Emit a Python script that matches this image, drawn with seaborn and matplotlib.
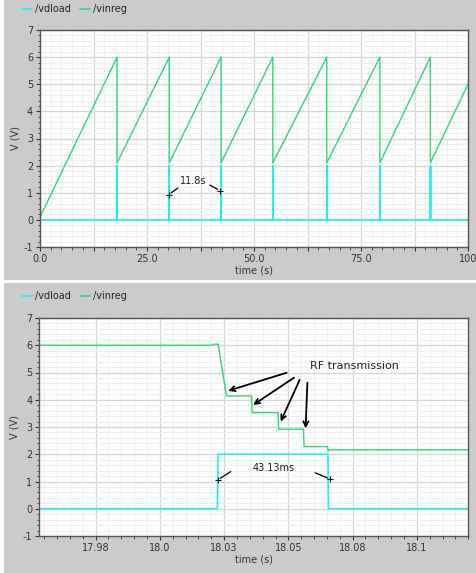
import numpy as np
import pandas as pd
import seaborn as sns
import matplotlib.pyplot as plt
from matplotlib.patches import Rectangle
from matplotlib.ticker import MultipleLocator, FixedLocator

# ---- top panel: full 100 s transient ----
# vinreg sawtooth corners (time s, volts)
saw_t = [0.0, 18.0, 18.0, 30.2, 30.2, 42.3, 42.3, 54.4, 54.4, 67.0, 67.0, 79.4, 79.4, 91.2, 91.2, 100.0]
saw_v = [0.1, 6.0, 2.1, 6.0, 2.1, 6.0, 2.1, 6.0, 2.1, 6.0, 2.1, 6.0, 2.1, 6.0, 2.1, 5.0]
# vdload pulses (start times, s), width and height
pulse_t = [18.0, 30.2, 42.3, 54.4, 67.0, 79.4, 91.2]
pulse_w = 0.043
pulse_h = 2.0
top_tmax = 100.0

# ---- bottom panel: zoom on first RF discharge ----
zoom_t = [17.95, 18.0208, 18.0210, 18.0227, 18.0259, 18.0357, 18.0359, 18.0460, 18.0462,
          18.0559, 18.0561, 18.0652, 18.0655, 18.0660, 18.12]
zoom_v = [6.0, 6.0, 6.04, 6.04, 4.14, 4.14, 3.53, 3.53, 2.92, 2.92, 2.28, 2.28, 2.12, 2.16, 2.16]
load_t = [17.95, 18.0222, 18.0224, 18.0226, 18.0654, 18.0656, 18.12]
load_v = [0.0, 0.0, 0.05, 2.0, 2.0, 0.0, 0.0]
zoom_ticks = [17.975, 18.0, 18.025, 18.05, 18.075, 18.1]
zoom_labels = ["17.98", "18.0", "18.03", "18.05", "18.08", "18.1"]

# markers / annotation targets
top_mark_t = [30.1, 42.1]
top_mark_v = [0.93, 1.08]
bot_mark_t = [18.0226, 18.0662]
bot_mark_v = [1.06, 1.09]
# arrow heads for "RF transmission"
rf_head_t = [18.0266, 18.0363, 18.0470, 18.0567]
rf_head_v = [4.33, 3.81, 3.20, 2.95]
rf_tail_t = [18.0493, 18.0522, 18.0544, 18.0574]
rf_tail_v = [4.99, 4.81, 4.73, 4.63]

CYAN = "#1ef0f0"
GREEN = "#2fd67c"
PANEL = "#cbcbcb"

sns.set_theme(style="white")
plt.rcParams["font.family"] = ["DejaVu Sans"]
plt.rcParams["font.size"] = 7
plt.rcParams["axes.unicode_minus"] = False


def pulse_series(starts, width, height, tmax):
    t, v = [0.0], [0.0]
    for s in starts:
        t += [s, s, s + width, s + width]
        v += [0.0, height, height, 0.0]
    t.append(tmax)
    v.append(0.0)
    return pd.DataFrame({"time": t, "V": v})


def style_axes(ax):
    ax.set_facecolor("white")
    ax.set_ylim(-1, 7)
    ax.yaxis.set_major_locator(MultipleLocator(1))
    ax.yaxis.set_minor_locator(MultipleLocator(0.2))
    ax.grid(True, which="major", color="#d6d6d6", lw=0.9)
    ax.grid(True, which="minor", color="#eeeeee", lw=0.7)
    ax.set_axisbelow(True)
    for s in ax.spines.values():
        s.set_color("#555555")
        s.set_linewidth(1.0)
    ax.tick_params(which="major", direction="out", length=3, width=0.8, color="#333333",
                   labelsize=7, labelcolor="#333333", pad=2, left=True, bottom=True)
    ax.tick_params(which="minor", direction="out", length=1.8, width=0.6, color="#333333",
                   left=True, bottom=True)
    ax.set_ylabel("V (V)", fontsize=7, color="#333333")
    ax.yaxis.set_label_coords(-0.045, 0.5)
    ax.set_xlabel("time (s)", fontsize=7, color="#333333", labelpad=1)


fig = plt.figure(figsize=(4.76, 5.73), dpi=100, facecolor="white")
fig.patches.append(Rectangle((4 / 476, 1 - 280 / 573), 1, 280 / 573, transform=fig.transFigure,
                             facecolor=PANEL, edgecolor="none", zorder=-10))
fig.patches.append(Rectangle((4 / 476, 0), 1, 1 - 283 / 573, transform=fig.transFigure,
                             facecolor=PANEL, edgecolor="none", zorder=-10))

ax1 = fig.add_axes([40 / 476, 1 - 247 / 573, 428 / 476, 217 / 573])
ax2 = fig.add_axes([39.3 / 476, 1 - 536 / 573, 429 / 476, 218 / 573])

# top panel
top_load = pulse_series(pulse_t, pulse_w, pulse_h, top_tmax)
top_reg = pd.DataFrame({"time": saw_t, "V": saw_v})
sns.lineplot(data=top_load, x="time", y="V", ax=ax1, color=CYAN, lw=1.2, sort=False, estimator=None)
sns.lineplot(data=top_reg, x="time", y="V", ax=ax1, color=GREEN, lw=1.0, sort=False, estimator=None)
style_axes(ax1)
ax1.set_xlim(0, 100)
ax1.xaxis.set_minor_locator(MultipleLocator(2.5))
ax1.set_xticks(np.arange(0, 101, 12.5), minor=False)
ax1.set_xticklabels(["0.0", "", "25.0", "", "50.0", "", "75.0", "", "100"])
ax1.plot(top_mark_t, top_mark_v, "+", color="black", ms=4, mew=0.8)
ax1.annotate("", xy=(top_mark_t[0], top_mark_v[0]), xytext=(32.75, 1.24),
             arrowprops=dict(arrowstyle="-", color="black", lw=0.9))
ax1.annotate("", xy=(top_mark_t[1], top_mark_v[1]), xytext=(39.1, 1.33),
             arrowprops=dict(arrowstyle="-", color="black", lw=0.9))
ax1.text(35.9, 1.45, "11.8s", ha="center", va="center", fontsize=7, color="#222222")

# bottom panel
bot_load = pd.DataFrame({"time": load_t, "V": load_v})
bot_reg = pd.DataFrame({"time": zoom_t, "V": zoom_v})
sns.lineplot(data=bot_load, x="time", y="V", ax=ax2, color=CYAN, lw=1.2, sort=False, estimator=None)
sns.lineplot(data=bot_reg, x="time", y="V", ax=ax2, color=GREEN, lw=1.0, sort=False, estimator=None)
style_axes(ax2)
ax2.set_xlim(17.9531, 18.12)
ax2.xaxis.set_major_locator(FixedLocator(zoom_ticks))
ax2.xaxis.set_minor_locator(MultipleLocator(0.005))
ax2.set_xticklabels(zoom_labels)
ax2.plot(bot_mark_t, bot_mark_v, "+", color="black", ms=4, mew=0.8)
ax2.annotate("", xy=(bot_mark_t[0], bot_mark_v[0]), xytext=(18.0285, 1.42),
             arrowprops=dict(arrowstyle="-", color="black", lw=0.9))
ax2.annotate("", xy=(bot_mark_t[1], bot_mark_v[1]), xytext=(18.0594, 1.36),
             arrowprops=dict(arrowstyle="-", color="black", lw=0.9))
ax2.text(18.0444, 1.51, "43.13ms", ha="center", va="center", fontsize=7, color="#222222")
for ht, hv, tt, tv in zip(rf_head_t, rf_head_v, rf_tail_t, rf_tail_v):
    ax2.annotate("", xy=(ht, hv), xytext=(tt, tv),
                 arrowprops=dict(arrowstyle="->", color="black", lw=1.3, mutation_scale=9,
                                 shrinkA=0, shrinkB=0))
ax2.text(18.0758, 5.24, "RF transmission", ha="center", va="center", fontsize=8, color="#222222")

# legends in the gray header strips
for ax, ypix in [(ax1, 9), (ax2, 296)]:
    h = [plt.Line2D([], [], color=CYAN, lw=1.2), plt.Line2D([], [], color=GREEN, lw=1.2)]
    fig.legend(h, ["/vdload", "/vinreg"], loc="center left",
               bbox_to_anchor=(22 / 476, 1 - ypix / 573), ncol=2, frameon=False,
               fontsize=7, handlelength=1.0, handletextpad=0.3, columnspacing=1.0,
               borderaxespad=0, borderpad=0)

fig.savefig("out.png", dpi=100, facecolor=fig.get_facecolor())
